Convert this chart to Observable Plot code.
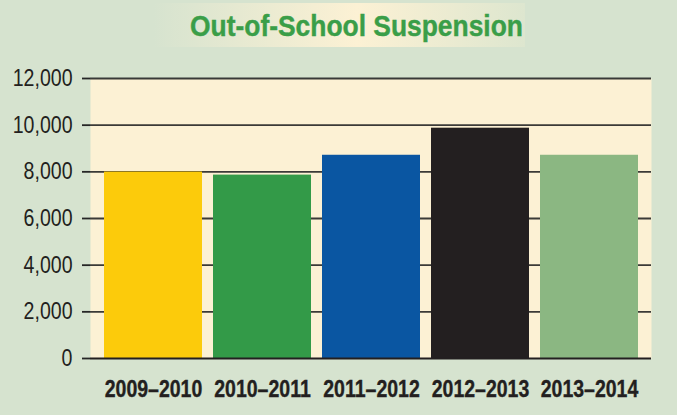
<!DOCTYPE html>
<html>
<head>
<meta charset="utf-8">
<script src="https://cdn.jsdelivr.net/npm/d3@7"></script>
<script src="https://cdn.jsdelivr.net/npm/@observablehq/plot@0.6"></script>
<style>
  html, body { margin: 0; padding: 0; background: #d6e3cf; }
  body { width: 677px; height: 415px; overflow: hidden; }
  svg { display: block; }
</style>
</head>
<body>
<svg id="title" width="677" height="50" xmlns="http://www.w3.org/2000/svg">
  <defs>
    <linearGradient id="glow" x1="0" x2="1" y1="0" y2="0">
      <stop offset="0" stop-color="#d6e3cf"/>
      <stop offset="0.55" stop-color="#fcf1d4"/>
      <stop offset="1" stop-color="#dde6cf"/>
    </linearGradient>
  </defs>
  <rect x="153" y="3" width="372" height="44" fill="url(#glow)"/>
  <text id="titleText" x="356.5" y="36" text-anchor="middle" fill="#3a9e48" stroke="#3a9e48" stroke-width="0.4"
        font-family="'Liberation Sans', Arial, sans-serif" font-weight="bold" font-size="29">Out-of-School Suspension</text>
</svg>
<div id="chart"></div>
<script>
const years = ["2009–2010", "2010–2011", "2011–2012", "2012–2013", "2013–2014"];
const suspensions = [7990, 7860, 8710, 9870, 8710];
const barColors = ["#fccb0b", "#339a48", "#0a56a2", "#231f20", "#8bb782"];
const yTicks = [0, 2000, 4000, 6000, 8000, 10000, 12000];

const data = years.map((y, i) => ({year: y, value: suspensions[i]}));
const font = '"Liberation Sans", Arial, sans-serif';

const chart = Plot.plot({
  width: 677,
  height: 365,
  marginLeft: 90,
  marginRight: 26,
  marginTop: 28,
  marginBottom: 57,
  style: {background: "transparent", fontFamily: font, color: "#231f20"},
  x: {domain: years, padding: 0.105, label: null},
  y: {domain: [0, 12000], label: null},
  color: {domain: years, range: barColors},
  marks: [
    Plot.frame({fill: "#fcf1d4", stroke: null}),
    Plot.ruleY(yTicks.filter(d => d > 0), {stroke: "#262626", strokeWidth: 1.8, strokeOpacity: 0.9}),
    Plot.barY(data, {x: "year", y: "value", fill: "year"}),
    Plot.ruleY([0], {stroke: "#231f20", strokeWidth: 1.8}),
    Plot.axisY({ticks: yTicks, tickFormat: d3.format(","), tickSize: 8, tickPadding: 10,
      stroke: "#262626", strokeWidth: 1.8, fontSize: 23, fill: "#231f20", label: null}),
    Plot.axisX({tickSize: 0, tickPadding: 22, fontSize: 23.5, fontWeight: "bold", fill: "#231f20", label: null})
  ]
});
document.getElementById("chart").appendChild(chart);

// condense text horizontally to mimic the narrow typeface of the original
function condense(el, f) {
  const w = el.getComputedTextLength();
  if (!w) return;
  el.setAttribute("textLength", (w * f).toFixed(2));
  el.setAttribute("lengthAdjust", "spacingAndGlyphs");
}
chart.querySelectorAll('g[aria-label="y-axis tick label"] text').forEach(t => condense(t, 0.85));
chart.querySelectorAll('g[aria-label="x-axis tick label"] text').forEach(t => {
  condense(t, 0.83);
  t.setAttribute("stroke", "#231f20");
  t.setAttribute("stroke-width", "0.35");
});
condense(document.getElementById("titleText"), 0.91);
</script>
</body>
</html>
